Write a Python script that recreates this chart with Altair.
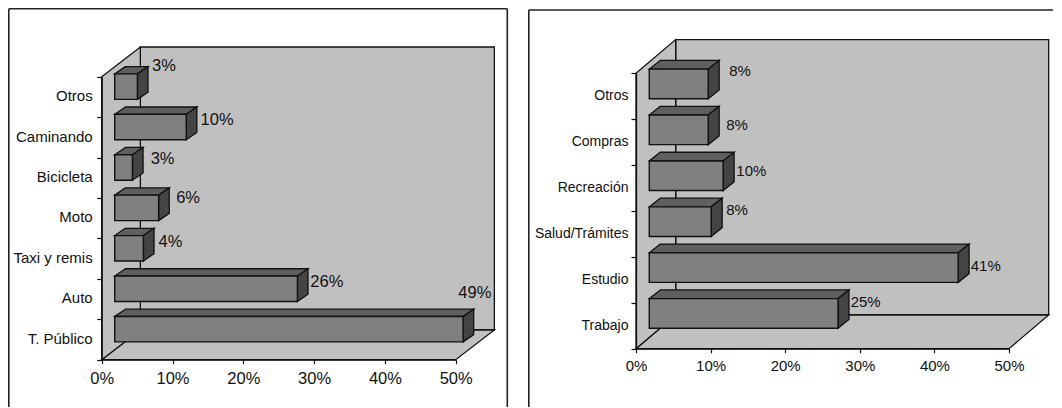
import json
import altair as alt
import pandas as pd

# ---- data (bottom to top) ----
modes = ["T. Público", "Auto", "Taxi y remis", "Moto", "Bicicleta", "Caminando", "Otros"]
mode_values = [49.2, 25.8, 4.05, 6.2, 2.5, 10.1, 3.2]
mode_texts = ["49%", "26%", "4%", "6%", "3%", "10%", "3%"]
mode_label_x = [52.7, 31.8, 9.7, 12.2, 8.6, 16.3, 8.8]
mode_label_y = [1.642, 1.922, 2.904, 4.007, 4.957, 5.929, 7.272]

reasons = ["Trabajo", "Estudio", "Salud/Trámites", "Recreación ", "Compras", "Otros"]
reason_values = [25.3, 41.4, 8.3, 9.9, 7.9, 7.9]
reason_texts = ["25%", "41%", "8%", "10%", "8%", "8%"]
reason_label_x = [30.79, 46.88, 13.54, 15.46, 13.54, 13.94]
reason_label_y = [1.024, 1.808, 3.015, 3.878, 4.867, 6.057]

x_ticks = [0, 10, 20, 30, 40, 50]

WALL, FRONT, TOP, SIDE = "#C0C0C0", "#808080", "#5F5F5F", "#444444"
INK = "#111111"
FONT = "Liberation Sans"


def panel(cats, values, texts_, lab_x, lab_y, *, width, xr, yr, wall_dx, wall_dy, bar_x0, bar_lo, bar_hi,
          bar_dx, bar_dy, cat_font, tick_font, val_font, cat_off, cat_pad, tick_pad, frame):
    n = len(cats)
    xs = alt.Scale(domain=[0, 50], range=xr)
    ys = alt.Scale(domain=[0, n], range=yr)
    H = 400
    lab = json.dumps(list(cats) + [""], ensure_ascii=False)
    x_axis = alt.Axis(
        values=x_ticks, title=None, grid=False, orient="bottom", offset=yr[0] - H, zindex=1,
        labelExpr="datum.value + '%'", labelFont=FONT, labelFontSize=tick_font, labelColor=INK,
        labelPadding=tick_pad, tickSize=4, tickColor="#111111", domainColor="#111111",
        tickWidth=1.2, domainWidth=1.3, labelFlush=False, labelOverlap=False, labelBound=False)
    y_axis = alt.Axis(
        values=list(range(n + 1)), title=None, grid=False, orient="left", offset=-xr[0], zindex=1,
        labelExpr=f"{lab}[datum.value]", labelFont=FONT, labelFontSize=cat_font, labelColor=INK,
        labelOffset=cat_off, labelPadding=cat_pad, tickSize=5, tickColor="#111111", domainColor="#111111",
        tickWidth=1.2, domainWidth=1.3, labelOverlap=False, labelBound=False, labelFlush=False)
    X = lambda f: alt.X(f, type="quantitative", scale=xs, axis=x_axis)
    Y = lambda f: alt.Y(f, type="quantitative", scale=ys, axis=y_axis)
    color = alt.Color("c:N", scale=None, legend=None)
    stroke = alt.value("#111111")

    def h_layer(rows, sw=1.3):
        return alt.Chart(pd.DataFrame(rows)).mark_area(orient="horizontal", strokeWidth=sw, interpolate="linear").encode(
            x=X("a"), x2="b", y=Y("y"), detail="id:N", color=color, stroke=stroke)

    def v_layer(rows, sw=1.3):
        return alt.Chart(pd.DataFrame(rows)).mark_area(orient="vertical", strokeWidth=sw, interpolate="linear").encode(
            x=X("x"), y=Y("a"), y2="b", detail="id:N", color=color, stroke=stroke)

    floor = [dict(id="floor", c=WALL, y=y, a=a, b=b) for y, a, b in [(0, 0, 50), (wall_dy, wall_dx, 50 + wall_dx)]]
    lwall = [dict(id="wall", c=WALL, x=x, a=a, b=b) for x, a, b in [(0, 0, n), (wall_dx, wall_dy, n + wall_dy)]]
    tops, sides, bars = [], [], []
    for i, v in enumerate(values):
        lo, hi, end = i + bar_lo, i + bar_hi, bar_x0 + v
        bars.append(dict(x=bar_x0, x2=end, y=lo, y2=hi))
        tops.append(dict(id=f"t{i}", c=TOP, y=hi, a=bar_x0, b=end))
        tops.append(dict(id=f"t{i}", c=TOP, y=hi + bar_dy, a=bar_x0 + bar_dx, b=end + bar_dx))
        sides.append(dict(id=f"s{i}", c=SIDE, x=end, a=lo, b=hi))
        sides.append(dict(id=f"s{i}", c=SIDE, x=end + bar_dx, a=lo + bar_dy, b=hi + bar_dy))

    back = alt.Chart(pd.DataFrame([dict(x=wall_dx, x2=50 + wall_dx, y=wall_dy, y2=n + wall_dy)])).mark_rect(
        fill=WALL, stroke="#111111", strokeWidth=1.3
    ).encode(x=X("x"), x2="x2", y=Y("y"), y2="y2")

    fronts = alt.Chart(pd.DataFrame(bars)).mark_rect(fill=FRONT, stroke="#111111", strokeWidth=1.4).encode(
        x=X("x"), x2="x2", y=Y("y"), y2="y2"
    )
    texts = alt.Chart(
        pd.DataFrame(dict(x=lab_x, y=lab_y, t=texts_))
    ).mark_text(font=FONT, fontSize=val_font, color=INK, align="center", baseline="middle").encode(
        x=X("x"), y=Y("y"), text="t:N"
    )

    rules = []
    for r in frame:
        rules.append(alt.Chart(pd.DataFrame({"k": [0]})).mark_rule(color="#222222", strokeWidth=1.6).encode(
            x=alt.value(r[0]), x2=alt.value(r[1]), y=alt.value(r[2]), y2=alt.value(r[3])))

    return alt.layer(back, h_layer(floor), v_layer(lwall), h_layer(tops), v_layer(sides), fronts, texts, *rules
                     ).properties(width=width, height=H)


left = panel(modes, mode_values, mode_texts, mode_label_x, mode_label_y, width=520, xr=[93.7, 447.7], yr=[351.7, 68.7],
             wall_dx=5.46, wall_dy=0.735, bar_x0=1.84, bar_lo=0.44, bar_hi=1.07, bar_dx=1.5, bar_dy=0.18,
             cat_font=15, tick_font=16.5, val_font=16.5, cat_off=-21.5, cat_pad=4.5, tick_pad=6.5,
             frame=[(0.8, 0.8, 0.8, 399), (499.3, 499.3, 0.8, 399), (0.8, 499.3, 0.8, 0.8)])
right = panel(reasons, reason_values, reason_texts, reason_label_x, reason_label_y, width=526, xr=[108, 481], yr=[340.7, 65.3],
              wall_dx=5.32, wall_dy=0.734, bar_x0=1.78, bar_lo=0.445, bar_hi=1.09, bar_dx=1.47, bar_dy=0.19,
              cat_font=14, tick_font=15, val_font=15, cat_off=-23.5, cat_pad=3, tick_pad=6,
              frame=[(0.8, 0.8, 2, 399), (0.8, 525, 2, 2)])

chart = alt.hconcat(left, right, spacing=0, bounds="flush").properties(
    padding=0, background="white"
).configure_view(stroke=None)

chart.save("out.html", embed_options={"renderer": "svg", "actions": False})
